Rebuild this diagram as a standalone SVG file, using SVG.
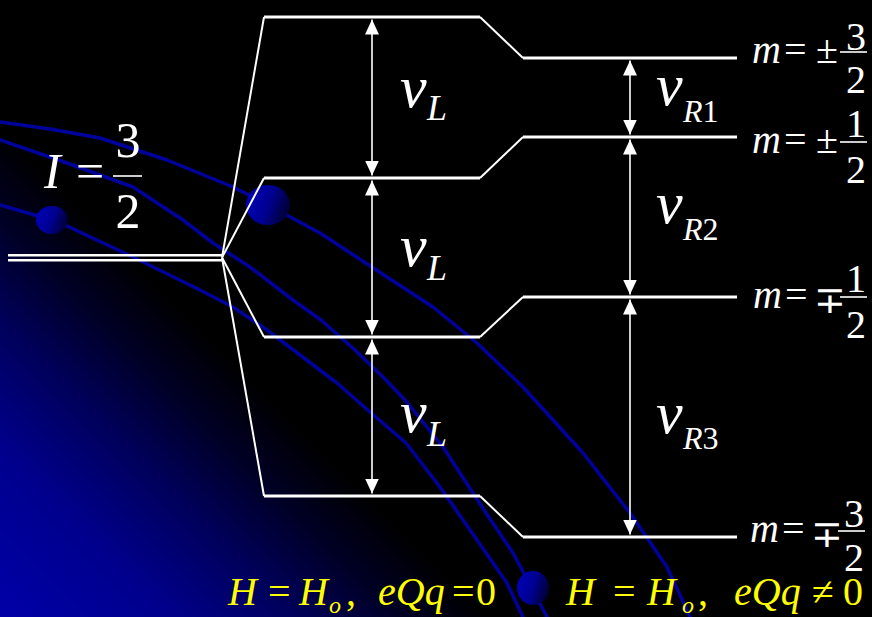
<svg xmlns="http://www.w3.org/2000/svg" width="872" height="617" viewBox="0 0 872 617">
  <defs>
    <linearGradient id="bg" gradientUnits="userSpaceOnUse" x1="0" y1="617" x2="245" y2="372">
      <stop offset="0" stop-color="#0000a8"/>
      <stop offset="0.35" stop-color="#00008c"/>
      <stop offset="0.6" stop-color="#00005c"/>
      <stop offset="0.82" stop-color="#000024"/>
      <stop offset="1" stop-color="#000000"/>
    </linearGradient>
    <linearGradient id="ball" x1="0" y1="0" x2="1" y2="0.3">
      <stop offset="0" stop-color="#0000c0"/>
      <stop offset="0.6" stop-color="#000090"/>
      <stop offset="1" stop-color="#000040"/>
    </linearGradient>
    <marker id="ah" viewBox="0 0 15 14" refX="15" refY="7" markerWidth="15" markerHeight="14" markerUnits="userSpaceOnUse" orient="auto-start-reverse">
      <path d="M0,0 L15,7 L0,14 z" fill="#ffffff"/>
    </marker>
    <style>
      .arc{fill:none;stroke:#00009c;stroke-width:3.5;stroke-linejoin:round;stroke-linecap:round}
      .lvl{fill:none;stroke:#ffffff;stroke-width:3}
      .slant{fill:none;stroke:#ffffff;stroke-width:2}
      .fan{fill:none;stroke:#ffffff;stroke-width:2}
      .arrow{fill:none;stroke:#ffffff;stroke-width:1.6;marker-start:url(#ah);marker-end:url(#ah)}
      .bar{stroke:#ffffff;stroke-width:1.6}
      text{font-family:"Liberation Serif","Times New Roman",serif;fill:#ffffff}
      .it{font-style:italic}
      .nu{font-size:60px;font-style:italic}
      .subL{font-size:36px;font-style:italic}
      .subR{font-size:32px}
      .m{font-size:40px}
      .mp{font-size:38px}
      .big{font-size:50px}
      .y{fill:#ffff00;font-size:40px}
      .ysub{fill:#ffff00;font-size:24px;font-style:italic}
    </style>
  </defs>

  <g id="background">
    <rect x="0" y="0" width="872" height="617" fill="#000000"/>
    <rect x="0" y="0" width="872" height="617" fill="url(#bg)"/>
    <path class="arc" d="M0,122 L50,129 L100,138 L167,160 L233,187 L268,205 L320,233 L387,277 L433,307 L477,343 L523,387 L583,453 L630,513 L667,567 L690,617"/>
    <path class="arc" d="M0,140 L67,163 L133,187 L183,220 L213,243 L250,267 L293,300 L321,320 L355,350 L383,377 L405,400 L443,447 L486,513 L513,553 L532,588 L547,617"/>
    <path class="arc" d="M0,205 L52,220 L67,226 L133,257 L200,290 L233,307 L267,330 L300,355 L337,383 L370,412 L406,443 L440,487 L477,540 L507,583 L523,617"/>
    <ellipse cx="268" cy="205" rx="22" ry="20" fill="url(#ball)"/>
    <ellipse cx="52" cy="220" rx="16" ry="14" fill="url(#ball)"/>
    <ellipse cx="533" cy="588" rx="16" ry="17" fill="url(#ball)"/>
  </g>

  <g id="ground-level">
    <line x1="8" y1="255.3" x2="222" y2="255.3" stroke="#ffffff" stroke-width="2.5"/>
    <line x1="8" y1="260.3" x2="222" y2="260.3" stroke="#ffffff" stroke-width="2.5"/>
  </g>
  <g id="label-I">
    <text class="big it" x="44" y="188">I</text>
    <text class="big" x="76" y="188">=</text>
    <line class="bar" x1="113" y1="176" x2="142" y2="176" stroke-width="2"/>
    <text class="big" x="128" y="157" text-anchor="middle">3</text>
    <text class="big" x="128" y="228" text-anchor="middle">2</text>
  </g>

  <g id="level-1">
    <path class="lvl" d="M264,17 H480"/>
    <path class="slant" d="M480,17 L523,58"/>
    <path class="lvl" d="M523,58 H737"/>
  </g>
  <g id="level-2">
    <path class="lvl" d="M264,178 H480"/>
    <path class="slant" d="M480,178 L523,137"/>
    <path class="lvl" d="M523,137 H737"/>
  </g>
  <g id="level-3">
    <path class="lvl" d="M264,337 H480"/>
    <path class="slant" d="M480,337 L523,297"/>
    <path class="lvl" d="M523,297 H737"/>
  </g>
  <g id="level-4">
    <path class="lvl" d="M264,496 H480"/>
    <path class="slant" d="M480,496 L523,537"/>
    <path class="lvl" d="M523,537 H737"/>
  </g>

  <g id="connectors">
    <path class="fan" d="M222,257.5 L264,17"/>
    <path class="fan" d="M222,257.5 L264,178"/>
    <path class="fan" d="M222,257.5 L264,337"/>
    <path class="fan" d="M222,257.5 L264,496"/>
    <line class="arrow" x1="372" y1="19.5" x2="372" y2="175.5"/>
    <line class="arrow" x1="372" y1="180.5" x2="372" y2="334.5"/>
    <line class="arrow" x1="372" y1="339.5" x2="372" y2="493.5"/>
    <line class="arrow" x1="630" y1="60.5" x2="630" y2="134.5"/>
    <line class="arrow" x1="630" y1="139.5" x2="630" y2="294.5"/>
    <line class="arrow" x1="630" y1="299.5" x2="630" y2="534.5"/>
  </g>

  <g id="labels-nuL">
    <text class="nu" x="400" y="107">ν</text><text class="subL" x="427" y="120">L</text>
    <text class="nu" x="400" y="266">ν</text><text class="subL" x="427" y="280">L</text>
    <text class="nu" x="400" y="432">ν</text><text class="subL" x="427" y="446">L</text>
  </g>
  <g id="labels-nuR">
    <text class="nu" x="656" y="105">ν</text><text class="subR" x="683" y="122"><tspan class="it">R</tspan>1</text>
    <text class="nu" x="656" y="223">ν</text><text class="subR" x="683" y="240"><tspan class="it">R</tspan>2</text>
    <text class="nu" x="656" y="433">ν</text><text class="subR" x="683" y="449"><tspan class="it">R</tspan>3</text>
  </g>

  <g id="labels-m">
    <text class="m it" x="752" y="63">m</text><text class="m" x="784" y="63">=</text><text class="m" x="816" y="63">±</text>
    <line class="bar" x1="840" y1="52" x2="867" y2="52"/>
    <text class="m" x="856" y="50" text-anchor="middle">3</text><text class="m" x="856" y="93" text-anchor="middle">2</text>

    <text class="m it" x="752" y="153">m</text><text class="m" x="784" y="153">=</text><text class="m" x="816" y="153">±</text>
    <line class="bar" x1="840" y1="142" x2="867" y2="142"/>
    <text class="m" x="856" y="137" text-anchor="middle">1</text><text class="m" x="856" y="183" text-anchor="middle">2</text>

    <text class="m it" x="753" y="308">m</text><text class="m" x="785" y="308">=</text><text class="mp" x="814" y="313">∓</text>
    <line class="bar" x1="840" y1="297" x2="867" y2="297"/>
    <text class="m" x="856" y="292" text-anchor="middle">1</text><text class="m" x="856" y="338" text-anchor="middle">2</text>

    <text class="m it" x="750" y="542">m</text><text class="m" x="782" y="542">=</text><text class="mp" x="811" y="547">∓</text>
    <line class="bar" x1="838" y1="531" x2="865" y2="531"/>
    <text class="m" x="854" y="527" text-anchor="middle">3</text><text class="m" x="854" y="571" text-anchor="middle">2</text>
  </g>

  <g id="caption-left">
    <text class="y it" x="228" y="605">H</text>
    <text class="y" x="268" y="605">=</text>
    <text class="y it" x="299" y="605">H</text>
    <text class="ysub" x="329" y="613">o</text>
    <text class="y" x="346" y="605">,</text>
    <text class="y it" x="378" y="605">eQq</text>
    <text class="y" x="452" y="605">=</text>
    <text class="y" x="476" y="605">0</text>
  </g>
  <g id="caption-right">
    <text class="y it" x="566" y="605">H</text>
    <text class="y" x="613" y="605">=</text>
    <text class="y it" x="647" y="605">H</text>
    <text class="ysub" x="682" y="613">o</text>
    <text class="y" x="698" y="605">,</text>
    <text class="y it" x="734" y="605">eQq</text>
    <text class="y" x="812" y="605">≠</text>
    <text class="y" x="843" y="605">0</text>
  </g>
</svg>
